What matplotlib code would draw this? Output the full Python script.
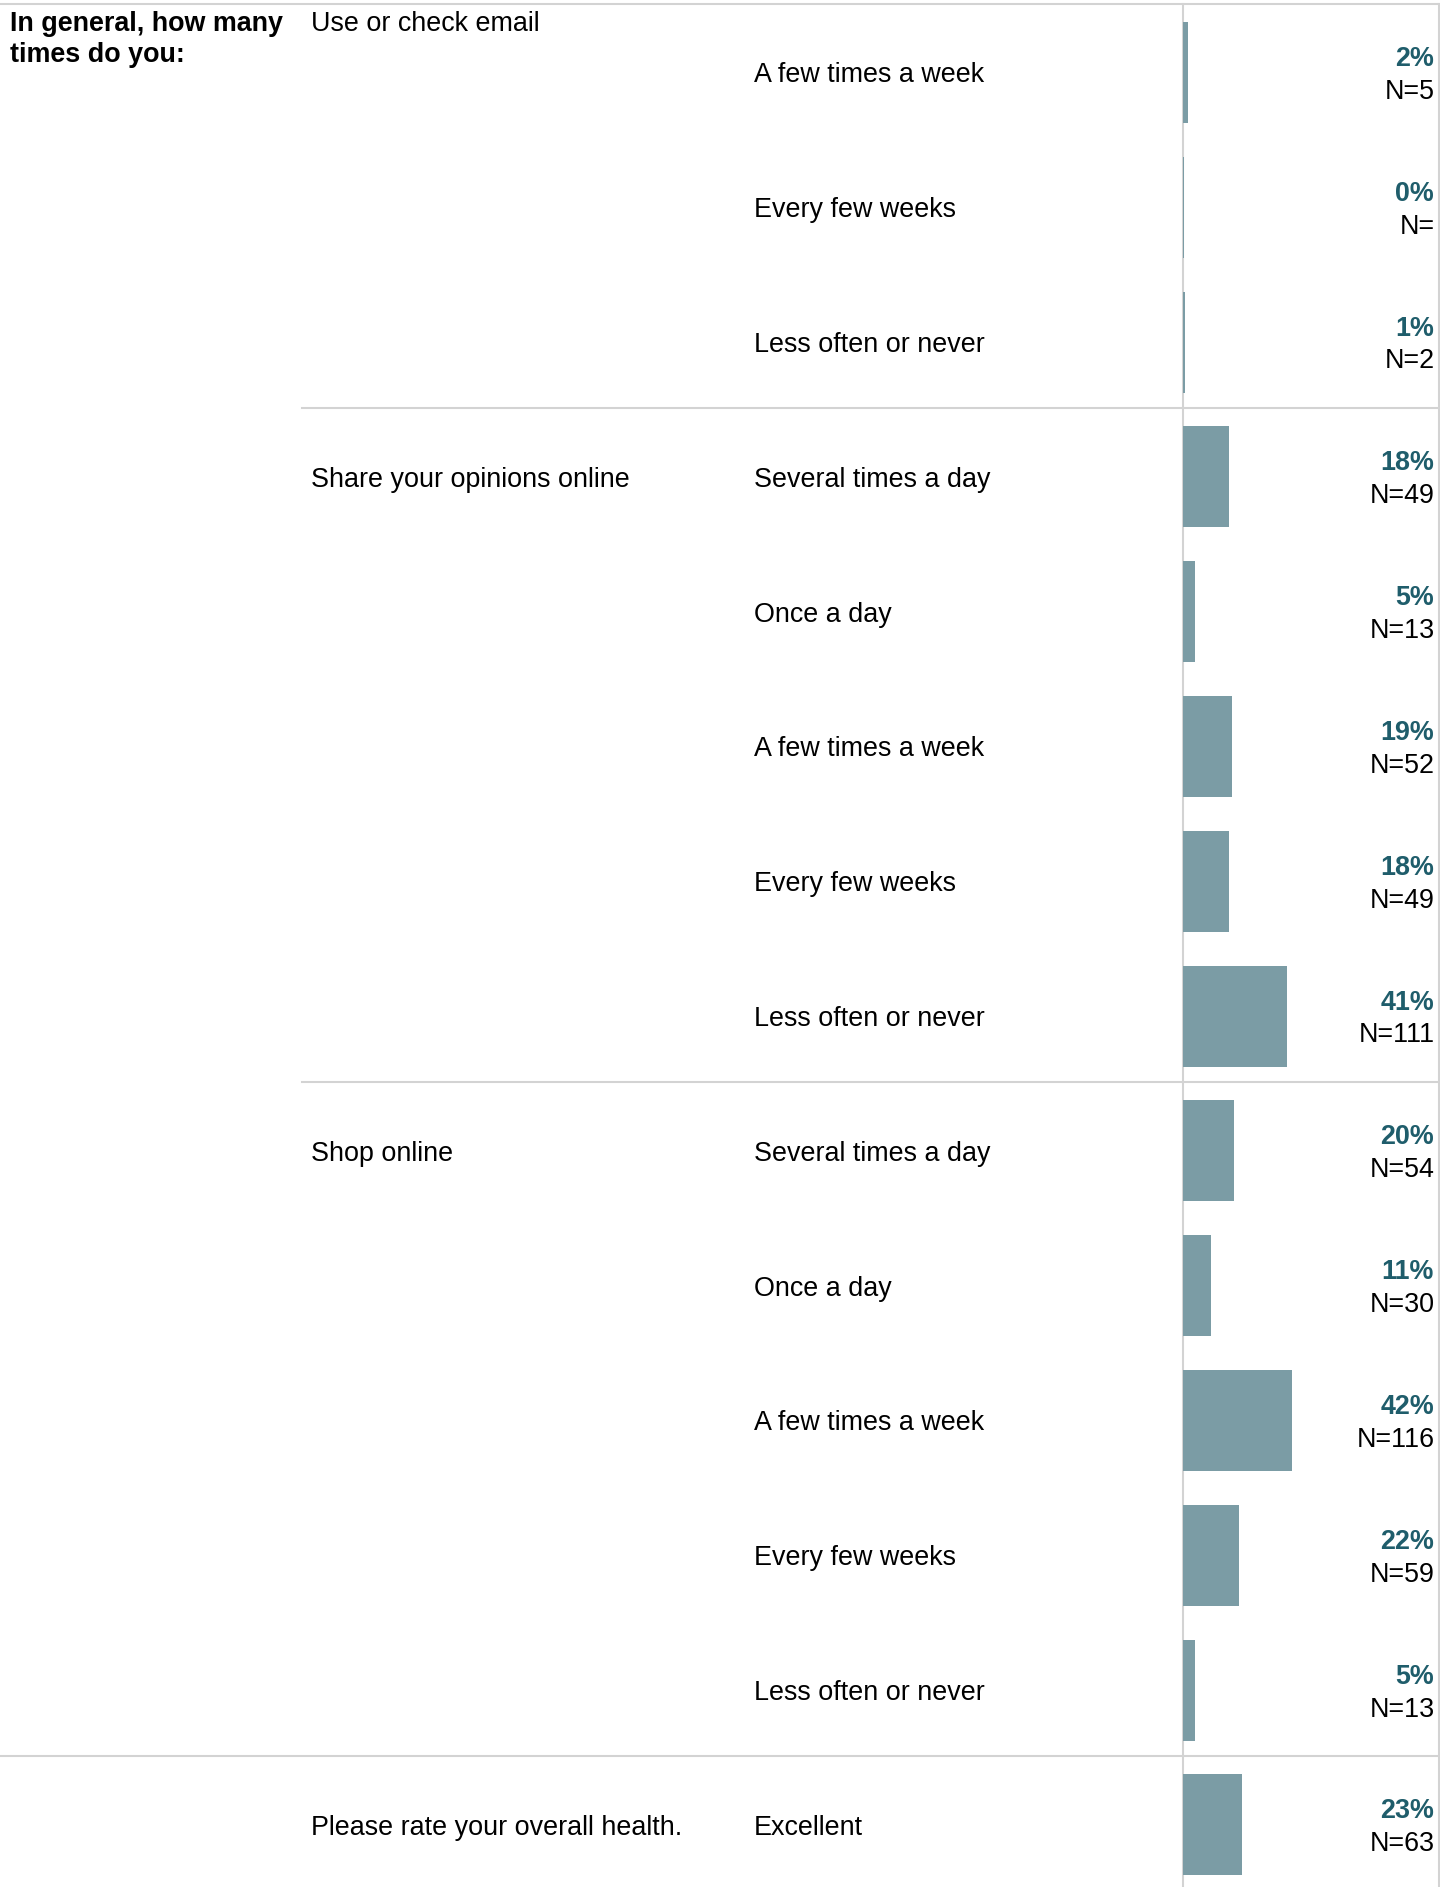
import matplotlib.pyplot as plt

# data
question = "In general, how many\ntimes do you:"
groups = ["Use or check email", "Share your opinions online", "Shop online",
          "Please rate your overall health."]
group_sizes = [3, 5, 5, 1]
options = ["A few times a week", "Every few weeks", "Less often or never",
           "Several times a day", "Once a day", "A few times a week", "Every few weeks", "Less often or never",
           "Several times a day", "Once a day", "A few times a week", "Every few weeks", "Less often or never",
           "Excellent"]
# bar length in percent
pct = [1.8, 0.5, 0.7,
       17.9, 4.7, 19.0, 17.9, 40.6,
       19.9, 11.0, 42.6, 21.7, 4.8,
       23.2]
pct_labels = ["2%", "0%", "1%",
              "18%", "5%", "19%", "18%", "41%",
              "20%", "11%", "42%", "22%", "5%",
              "23%"]
n_labels = ["5", "", "2",
            "49", "13", "52", "49", "111",
            "54", "30", "116", "59", "13",
            "63"]

W, H = 1440, 1887
top = 4
pitch = 134.8
bar_x0 = 1183
bar_color = "#7b9ca5"
pct_color = "#1f5d6b"
line_color = "#d3d3d3"
font = "Liberation Sans"
fs = 19.4
dy = 3  # small downward nudge for text

fig = plt.figure(figsize=(W / 100, H / 100), dpi=100)

# background axes in pixel coords for text and rules
ax = fig.add_axes([0, 0, 1, 1])
ax.set_xlim(0, W)
ax.set_ylim(H, 0)
ax.set_axis_off()

# bar axes: the bar column is 0..100%
bx = fig.add_axes([bar_x0 / W, 0, (1439 - bar_x0) / W, 1])
bx.set_xlim(0, 100)
bx.set_ylim(H, 0)
bx.set_axis_off()

centers = [top + pitch * (i + 0.5) + 1 for i in range(len(options))]
bx.barh(centers, pct, height=101, left=0, color=bar_color)

# rules
ax.plot([0, W], [top, top], color=line_color, lw=1.5)
ax.plot([bar_x0, bar_x0], [top, H], color=line_color, lw=1.5)
ax.plot([1439, 1439], [top, H], color=line_color, lw=1.5)

# question text
ax.text(10, 11, question, fontsize=fs, fontweight="bold", family=font,
        va="top", ha="left", linespacing=1.27)

row = 0
for gi, (g, n) in enumerate(zip(groups, group_sizes)):
    if gi == 0:
        ax.text(311, 11, g, fontsize=fs, family=font, va="top", ha="left")
    else:
        ax.text(311, centers[row] + dy, g, fontsize=fs, family=font, va="center", ha="left")
    row += n
    sep = top + pitch * row
    if gi < len(groups) - 1:
        x0 = 0 if gi == len(groups) - 2 else 302
        ax.plot([x0, W], [sep, sep], color=line_color, lw=1.5)

for i, c in enumerate(centers):
    ax.text(754, c + dy, options[i], fontsize=fs, family=font, va="center", ha="left")
    ax.text(1434, c - 16.5 + dy, pct_labels[i], fontsize=fs, family=font, fontweight="bold",
            color=pct_color, va="center", ha="right")
    ax.text(1435, c + 16.5 + dy, "N=" + n_labels[i], fontsize=fs, family=font,
            va="center", ha="right")

fig.savefig("out.png", dpi=100)
